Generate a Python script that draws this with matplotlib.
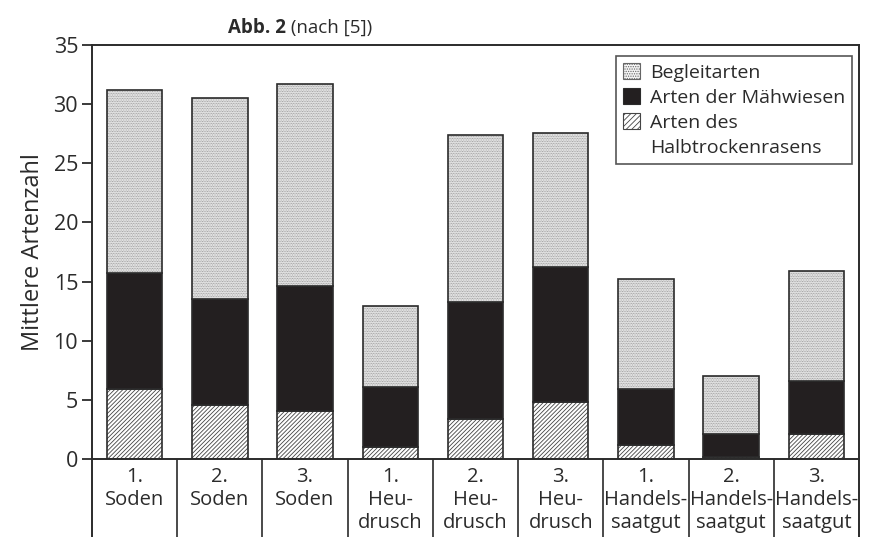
import matplotlib.pyplot as plt
from matplotlib.patches import Patch

plt.rcParams['font.family'] = ['Open Sans', 'DejaVu Sans']
plt.rcParams['hatch.linewidth'] = 0.6

INK = '#2b2b2b'

categories = ['1.\nSoden', '2.\nSoden', '3.\nSoden',
              '1.\nHeu-\ndrusch', '2.\nHeu-\ndrusch', '3.\nHeu-\ndrusch',
              '1.\nHandels-\nsaatgut', '2.\nHandels-\nsaatgut', '3.\nHandels-\nsaatgut']
halbtrocken = [5.9, 4.6, 4.1, 1.0, 3.4, 4.8, 1.2, 0.2, 2.1]
maehwiesen = [9.8, 8.9, 10.55, 5.05, 9.85, 11.4, 4.7, 1.95, 4.5]
begleit = [15.5, 17.0, 17.05, 6.9, 14.15, 11.4, 9.3, 4.85, 9.3]
yticks = [0, 5, 10, 15, 20, 25, 30, 35]

fig = plt.figure(figsize=(8.73, 5.37), dpi=100)
left, right = 92 / 873, 859 / 873
bottom, top = 1 - 459 / 537, 1 - 45 / 537
ax = fig.add_axes([left, bottom, right - left, top - bottom])
axl = fig.add_axes([left, 0, right - left, bottom])

x = list(range(len(categories)))
w = 0.65

DOTS = '..........'
LINES = '////////'

# hatched base: Arten des Halbtrockenrasens
ax.bar(x, halbtrocken, w, color='white', edgecolor='#444444', hatch=LINES, linewidth=0)
ax.bar(x, halbtrocken, w, fill=False, edgecolor=INK, linewidth=1.2)
# black middle: Arten der Mähwiesen
ax.bar(x, maehwiesen, w, bottom=halbtrocken, color='#231f20', edgecolor=INK, linewidth=1.2)
# dotted top: Begleitarten
base2 = [a + b for a, b in zip(halbtrocken, maehwiesen)]
ax.bar(x, begleit, w, bottom=base2, color='#f4f4f4', edgecolor='#8a8a8a', hatch=DOTS, linewidth=0)
ax.bar(x, begleit, w, bottom=base2, fill=False, edgecolor=INK, linewidth=1.2)

ax.set_xlim(-0.5, len(categories) - 0.5)
ax.set_ylim(0, 35)
ax.set_yticks(yticks)
ax.set_xticks([])
ax.tick_params(axis='y', direction='out', length=7, width=1.3, color=INK,
               labelsize=15.5, labelcolor=INK, pad=3)
for s in ax.spines.values():
    s.set_color(INK)
    s.set_linewidth(1.4)
ax.set_ylabel('Mittlere Artenzahl', fontsize=17, color=INK, labelpad=6)

# label table below the axis
axl.set_xlim(ax.get_xlim())
axl.set_ylim(0, 1)
axl.set_xticks([])
axl.set_yticks([])
axl.patch.set_alpha(0)
for side in ['top', 'bottom']:
    axl.spines[side].set_visible(False)
for side in ['left', 'right']:
    axl.spines[side].set_color(INK)
    axl.spines[side].set_linewidth(1.4)
for i in x[:-1]:
    axl.axvline(i + 0.5, color=INK, linewidth=1.2)
for i, lab in zip(x, categories):
    axl.text(i, 0.90, lab, ha='center', va='top', fontsize=14.5, color=INK,
             linespacing=1.2)

# legend
handles = [
    Patch(facecolor='#f4f4f4', edgecolor='#666666', hatch='.......', linewidth=0.8),
    Patch(facecolor='#231f20', edgecolor=INK, linewidth=0.8),
    Patch(facecolor='white', edgecolor='#444444', hatch='//////', linewidth=0.8),
    Patch(visible=False),
]
labels = ['Begleitarten', 'Arten der Mähwiesen', 'Arten des', 'Halbtrockenrasens']
leg = ax.legend(handles, labels, loc='upper right', bbox_to_anchor=(0.991, 0.973),
                fontsize=14, frameon=True, fancybox=False, handlelength=0.9,
                handleheight=0.9, handletextpad=0.5, labelspacing=0.32,
                borderpad=0.35, borderaxespad=0)
leg.get_frame().set_edgecolor(INK)
leg.get_frame().set_linewidth(1.2)
for t in leg.get_texts():
    t.set_color(INK)

# title with bold prefix
t1 = fig.text(228 / 873, 1 - 28 / 537, 'Abb. 2', fontsize=13.5, fontweight='bold',
              color=INK, ha='left', va='center')
ax.annotate(' (nach [5])', xy=(1, 0.5), xycoords=t1, ha='left', va='center',
            fontsize=13.5, color=INK)

fig.savefig('out.png', dpi=100)
